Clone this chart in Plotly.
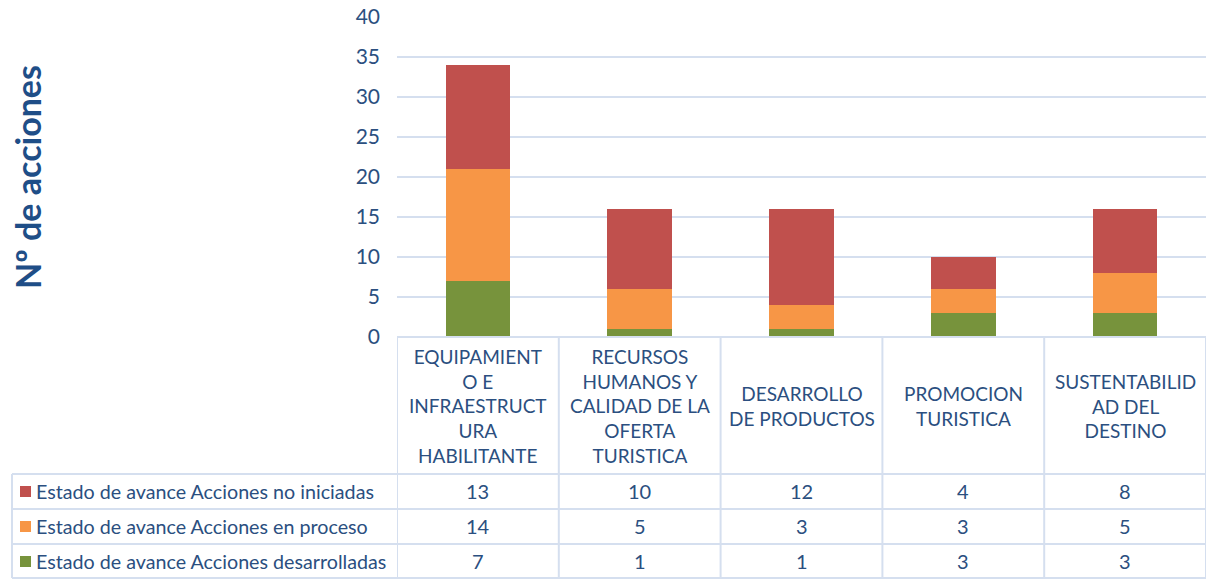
import plotly.graph_objects as go

categories = [
    "EQUIPAMIENT<br>O E<br>INFRAESTRUCT<br>URA<br>HABILITANTE",
    "RECURSOS<br>HUMANOS Y<br>CALIDAD DE LA<br>OFERTA<br>TURISTICA",
    "DESARROLLO<br>DE PRODUCTOS",
    "PROMOCION<br>TURISTICA",
    "SUSTENTABILID<br>AD DEL<br>DESTINO",
]
series_names = [
    "Estado de avance Acciones no iniciadas",
    "Estado de avance Acciones en proceso",
    "Estado de avance Acciones desarrolladas",
]
no_iniciadas = [13, 10, 12, 4, 8]
en_proceso = [14, 5, 3, 3, 5]
desarrolladas = [7, 1, 1, 3, 3]
y_ticks = [0, 5, 10, 15, 20, 25, 30, 35, 40]

W, H = 1209, 582
FONT = "Lato"
TXT = "#2B4F80"
GRID = "#D5DFEF"
colors = {"no": "#C0504D", "pro": "#F79646", "des": "#77933C"}

def py(p):
    return 1 - p / H

def pxx(p):
    return p / W

x_idx = list(range(len(categories)))
fig = go.Figure()
fig.add_trace(go.Bar(x=x_idx, y=desarrolladas, name=series_names[2], marker_color=colors["des"], marker_line_width=0))
fig.add_trace(go.Bar(x=x_idx, y=en_proceso, name=series_names[1], marker_color=colors["pro"], marker_line_width=0))
fig.add_trace(go.Bar(x=x_idx, y=no_iniciadas, name=series_names[0], marker_color=colors["no"], marker_line_width=0))

plot_left, plot_right = 397, 1206
plot_top, plot_bot = 17, 337

fig.update_layout(
    width=W, height=H, autosize=False,
    margin=dict(l=0, r=0, t=0, b=0, pad=0, autoexpand=False),
    paper_bgcolor="white", plot_bgcolor="white",
    barmode="stack", bargap=0.6, showlegend=False,
    font=dict(family=FONT, color=TXT),
    xaxis=dict(domain=[pxx(plot_left), pxx(plot_right)], range=[-0.5, 4.5], automargin=False,
               showticklabels=False, showgrid=False, zeroline=False, fixedrange=True),
    yaxis=dict(domain=[py(plot_bot), py(plot_top)], range=[0, 40], tickvals=y_ticks, automargin=False,
               tickfont=dict(size=21, color=TXT, family=FONT), gridcolor=GRID, gridwidth=2,
               zeroline=False, ticks="", ticklabelstandoff=16, fixedrange=True),
)

shapes = []
line = dict(color=GRID, width=2)
row_lines = [474, 509, 544, 578]
shapes.append(dict(type="line", xref="paper", yref="paper", x0=pxx(plot_left), x1=pxx(plot_right),
                   y0=py(plot_bot), y1=py(plot_bot), line=line))
for r in row_lines:
    shapes.append(dict(type="line", xref="paper", yref="paper", x0=pxx(12), x1=pxx(plot_right),
                       y0=py(r), y1=py(r), line=line))
for i in range(len(categories) + 1):
    shapes.append(dict(type="line", xref="x", yref="paper", x0=i - 0.5, x1=i - 0.5,
                       y0=py(plot_bot), y1=py(578), line=line))
shapes.append(dict(type="line", xref="paper", yref="paper", x0=pxx(12), x1=pxx(12),
                   y0=py(474), y1=py(578), line=line))

annotations = []
for i, c in enumerate(categories):
    annotations.append(dict(x=i, xref="x", y=py(406), yref="paper", text=c, showarrow=False,
                            font=dict(size=19, color=TXT, family=FONT), align="center",
                            xanchor="center", yanchor="middle"))
row_centers = [491, 526, 561]
row_vals = [no_iniciadas, en_proceso, desarrolladas]
row_cols = [colors["no"], colors["pro"], colors["des"]]
for r, name, vals, col in zip(row_centers, series_names, row_vals, row_cols):
    shapes.append(dict(type="rect", xref="paper", yref="paper", x0=pxx(20), x1=pxx(31),
                       y0=py(r + 6), y1=py(r - 5), fillcolor=col, line=dict(width=0)))
    annotations.append(dict(x=pxx(34), xref="paper", y=py(r), yref="paper", text=name,
                            showarrow=False, xanchor="left", yanchor="middle",
                            font=dict(size=19.7, color=TXT, family=FONT)))
    for i, v in enumerate(vals):
        annotations.append(dict(x=i, xref="x", y=py(r), yref="paper", text=str(v),
                                showarrow=False, xanchor="center", yanchor="middle",
                                font=dict(size=20, color=TXT, family=FONT)))

annotations.append(dict(x=pxx(27), xref="paper", y=py(177), yref="paper", text="<b>Nº de acciones</b>",
                        textangle=-90, showarrow=False, xanchor="center", yanchor="middle",
                        font=dict(size=34, color="#1F4E87", family=FONT)))

fig.update_layout(shapes=shapes, annotations=annotations)
fig.write_html("out.html", config={"displayModeBar": False},
               post_script="document.body.style.margin='0';document.body.style.overflow='hidden';")
